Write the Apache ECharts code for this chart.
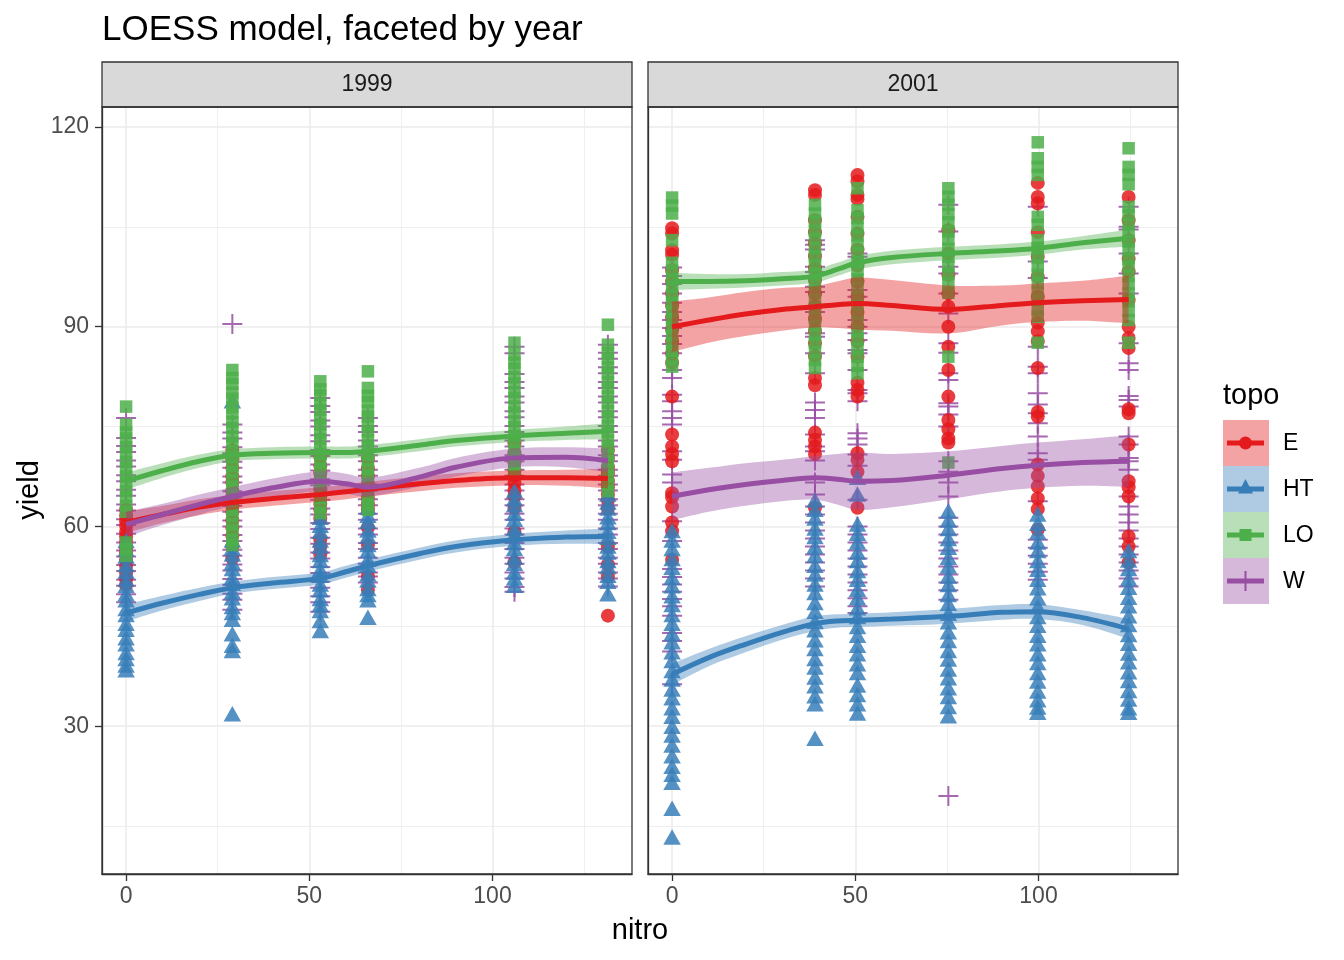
<!DOCTYPE html>
<html><head><meta charset="utf-8">
<script src="https://cdn.jsdelivr.net/npm/echarts@6/dist/echarts.min.js"></script>
<style>html,body{margin:0;padding:0;background:#fff}#c{width:1344px;height:960px}</style>
</head><body><div id="c"></div><script>
// ---------- data ----------
const topos = ['E', 'HT', 'LO', 'W'];
const years = ['1999', '2001'];
const nitro1999 = [0, 29, 53, 66, 106, 131.5];
const nitro2001 = [0, 39, 50.6, 75.4, 99.8, 124.6];
const xTicks = [0, 50, 100];
const xMinorTicks = [25, 75, 125];
const yTicks = [30, 60, 90, 120];
const yMinorTicks = [15, 45, 75, 105];

// observed yields, one list per nitro level
const E_1999 = [
  [62.5, 61.6, 60.8, 60.1, 59.2, 58.5, 57.7, 56.8, 56.1, 55.0, 54.1, 53.0, 52.1, 51.2],
  [71.5, 70.1, 68.8, 67.5, 66.6, 65.3, 64.4, 63.1, 62.2, 60.9, 59.8, 58.6, 57.0, 55.2],
  [70.5, 69.1, 68.0, 66.9, 65.6, 64.6, 63.4, 62.5, 61.2, 58.0, 57.0, 55.8],
  [70.2, 68.7, 67.6, 66.4, 65.5, 64.3, 63.4, 62.6, 59.8, 57.2, 52.5, 50.5],
  [72.5, 71.0, 69.6, 68.4, 67.6, 66.5, 65.4, 64.5, 62.8, 59.2, 54.6],
  [71.5, 70.3, 68.9, 68.0, 66.8, 65.9, 64.8, 63.9, 62.7, 57.0, 54.3, 52.5, 46.6]
];
const HT_1999 = [
  [57.5, 56.2, 55.2, 53.9, 52.9, 51.7, 50.8, 49.5, 48.6, 47.3, 46.4, 45.1, 44.2, 42.9, 42.0, 40.7, 39.8, 38.8, 38.1],
  [78.5, 57.6, 56.4, 55.5, 54.2, 53.3, 52.0, 51.1, 49.8, 48.9, 47.6, 46.7, 45.7, 43.5, 41.8, 41.0, 31.5],
  [61.0, 59.8, 58.9, 57.6, 56.7, 55.4, 54.5, 53.2, 52.3, 51.0, 50.1, 48.8, 47.9, 47.0, 45.5, 44.0],
  [62.5, 61.3, 60.4, 59.1, 58.2, 56.9, 56.0, 54.7, 53.8, 52.5, 51.6, 50.3, 49.4, 48.6, 46.0],
  [65.0, 63.8, 62.9, 61.6, 60.7, 59.4, 58.5, 57.2, 56.3, 55.0, 54.1, 52.8, 51.9, 50.8],
  [64.5, 63.3, 62.4, 61.1, 60.2, 58.9, 58.0, 56.7, 55.8, 54.5, 53.6, 52.3, 51.4, 49.5]
];
const LO_1999 = [
  [78.0, 75.3, 74.1, 73.2, 71.9, 71.0, 69.7, 68.8, 67.5, 66.6, 65.3, 64.4, 63.1, 62.2, 57.6, 56.6, 55.6],
  [83.5, 82.3, 81.4, 80.1, 79.2, 77.9, 77.0, 75.7, 74.8, 73.5, 72.6, 71.3, 70.4, 69.1, 68.2, 66.9, 66.0, 64.7, 63.8, 62.5, 61.6, 60.3, 59.4, 58.0, 57.2],
  [81.8, 80.6, 79.7, 78.4, 77.5, 76.2, 75.3, 74.0, 73.1, 71.8, 70.9, 69.6, 68.7, 67.4, 66.5, 65.2, 64.3, 63.0, 62.0],
  [83.3, 80.8, 79.6, 78.7, 77.4, 76.5, 75.2, 74.3, 73.0, 72.1, 70.8, 69.9, 68.6, 67.7, 66.4, 65.5, 64.2, 63.3, 62.5],
  [87.6, 85.8, 84.6, 83.7, 82.4, 81.5, 80.2, 79.3, 78.0, 77.1, 75.8, 74.9, 73.6, 72.7, 71.4, 70.5, 69.3, 68.5],
  [90.3, 87.3, 86.1, 85.2, 83.9, 83.0, 81.7, 80.8, 79.5, 78.6, 77.3, 76.4, 75.1, 74.2, 72.9, 72.0, 70.7, 69.8, 68.5, 67.6, 66.3, 65.3]
];
const W_1999 = [
  [76.3, 73.3, 72.1, 71.2, 69.9, 69.0, 67.7, 66.8, 65.5, 64.6, 63.3, 62.4, 61.1, 60.2, 58.9, 57.6, 56.4, 55.5, 54.2, 53.3, 52.0, 51.1, 49.8, 48.6],
  [90.4, 75.3, 74.1, 73.2, 71.9, 71.0, 69.7, 68.8, 67.5, 66.6, 65.3, 64.4, 63.1, 62.2, 60.9, 60.0, 58.7, 57.8, 56.5, 55.6, 54.3, 53.4, 52.1, 51.2, 49.9, 49.0, 47.5],
  [79.3, 78.1, 77.2, 75.9, 75.0, 73.7, 72.8, 71.5, 70.6, 69.3, 68.4, 67.1, 66.2, 64.9, 64.0, 62.7, 61.8, 60.5, 59.6, 58.3, 57.4, 56.1, 55.2, 53.9, 53.0, 51.7, 50.8, 49.5, 48.6, 47.2],
  [76.3, 75.1, 74.2, 72.9, 72.0, 70.7, 69.8, 68.5, 67.6, 66.3, 65.4, 64.1, 63.2, 61.9, 61.0, 59.7, 58.8, 57.5, 56.6, 55.3, 54.4, 53.1, 52.5, 51.6],
  [87.0, 86.0, 82.9, 81.7, 80.8, 79.5, 78.6, 77.3, 76.4, 75.1, 74.2, 72.9, 72.0, 70.7, 69.8, 68.5, 67.6, 66.3, 65.4, 64.1, 63.2, 61.9, 61.0, 59.7, 58.8, 57.5, 56.6, 55.3, 54.4, 53.1, 52.2, 50.9, 50.2],
  [87.3, 86.1, 85.2, 83.9, 83.0, 81.7, 80.8, 79.5, 78.6, 77.3, 76.4, 75.1, 74.2, 72.9, 72.0, 70.7, 69.8, 68.5, 67.6, 66.3, 65.4, 64.1, 63.2, 61.9, 61.0, 59.7, 58.8, 57.5, 56.6, 55.3, 54.4, 53.1, 52.2, 51.0]
];

const E_2001 = [
  [104.8, 104.0, 101.5, 100.8, 98.5, 96.8, 95.0, 93.2, 91.4, 89.6, 87.8, 86.0, 84.6, 79.5, 73.8, 72.0, 70.9, 69.8, 65.0, 64.4, 63.0, 60.6, 59.3, 55.0],
  [110.5, 109.8, 106.0, 104.2, 102.5, 100.6, 98.8, 97.0, 95.0, 93.0, 91.2, 89.4, 87.5, 85.6, 82.3, 81.2, 74.1, 73.0, 72.0, 70.9, 62.8],
  [112.8, 111.8, 109.8, 109.2, 106.5, 104.0, 101.6, 99.2, 96.8, 94.5, 92.2, 90.0, 87.8, 85.5, 81.6, 80.5, 79.5, 71.0, 70.0, 68.2, 62.8],
  [104.5, 101.0, 97.8, 95.0, 93.0, 90.0, 87.0, 83.5, 79.5, 76.0, 74.6, 73.2, 72.6],
  [111.6, 109.5, 108.5, 104.2, 100.5, 97.5, 94.5, 90.6, 89.3, 87.8, 83.8, 77.2, 76.5, 69.3, 67.6, 66.0, 64.2, 62.6, 59.5],
  [109.5, 106.0, 103.0, 100.2, 98.3, 94.0, 90.0, 88.3, 86.8, 77.6, 77.0, 72.3, 66.8, 65.9, 64.5, 58.5, 57.0, 54.6]
];
const HT_2001 = [
  [59.0, 57.6, 56.3, 54.8, 53.5, 52.0, 50.7, 49.2, 47.9, 46.4, 45.1, 43.6, 42.3, 40.8, 39.5, 38.0, 36.7, 35.2, 33.9, 32.4, 31.1, 29.6, 28.3, 26.8, 25.2, 23.6, 22.4, 21.2, 17.3, 13.0],
  [63.6, 62.2, 60.9, 59.4, 58.1, 56.6, 55.3, 53.8, 52.5, 51.0, 49.7, 48.2, 46.9, 45.4, 44.1, 42.6, 41.3, 39.8, 38.5, 37.0, 35.7, 34.2, 33.0, 27.8],
  [67.0, 64.5, 60.0, 58.6, 57.3, 55.8, 54.5, 53.0, 51.7, 50.2, 48.9, 47.4, 46.1, 44.6, 43.3, 41.8, 40.5, 39.0, 37.7, 35.8, 34.4, 33.0, 31.6],
  [62.0, 60.6, 59.3, 57.8, 56.5, 55.0, 53.7, 52.2, 50.9, 49.4, 48.1, 46.6, 45.3, 43.8, 42.5, 41.0, 39.7, 38.2, 36.9, 35.4, 34.1, 32.6, 31.2],
  [61.5, 60.1, 58.8, 57.3, 56.0, 54.5, 53.2, 51.7, 50.4, 48.9, 47.6, 46.1, 44.8, 43.3, 42.0, 40.5, 39.2, 37.7, 36.4, 34.9, 33.6, 32.5, 31.7],
  [56.0, 54.6, 53.3, 51.8, 50.5, 49.0, 47.7, 46.2, 44.9, 43.4, 42.1, 40.6, 39.3, 37.8, 36.5, 35.0, 33.7, 32.4, 31.7]
];
const LO_2001 = [
  [109.4, 108.2, 107.0, 103.0, 99.6, 98.4, 97.1, 96.0, 94.7, 93.6, 92.3, 91.2, 89.9, 88.8, 87.5, 86.4, 85.1, 84.0],
  [108.3, 107.0, 105.8, 104.4, 103.2, 101.8, 100.6, 99.2, 98.0, 96.6, 95.4, 94.0, 92.8, 91.4, 90.2, 88.8, 87.6, 86.2, 85.0, 83.8],
  [110.8, 107.5, 106.3, 104.9, 103.7, 102.3, 101.1, 99.7, 98.5, 97.1, 95.9, 94.5, 93.3, 91.9, 90.7, 89.3, 88.1, 86.7, 85.5, 84.1, 83.0],
  [110.8, 109.5, 108.3, 106.9, 105.7, 104.3, 103.1, 101.7, 100.5, 99.1, 97.9, 96.5, 95.1, 85.5, 69.6],
  [117.7, 115.3, 114.0, 112.8, 106.5, 105.3, 103.0, 101.8, 100.4, 99.2, 97.8, 96.6, 95.2, 94.0, 92.6, 91.5, 87.6],
  [116.8, 114.0, 112.8, 111.4, 108.0, 106.8, 105.4, 104.2, 102.8, 101.6, 100.2, 99.0, 97.6, 96.4, 95.0, 93.8, 92.4, 91.0, 87.6]
];
const W_2001 = [
  [98.9, 97.6, 96.4, 95.0, 93.6, 92.2, 91.0, 89.8, 88.6, 87.4, 86.0, 83.5, 82.3, 79.8, 78.8, 77.3, 76.3, 75.3, 71.3, 70.0, 67.8, 66.6, 60.8, 57.8, 53.6, 52.4, 51.3, 50.2, 49.1, 48.0, 46.6, 44.0, 42.8, 41.2, 36.3],
  [103.0, 102.3, 101.6, 99.0, 98.2, 96.0, 95.2, 93.0, 92.2, 89.0, 88.5, 86.0, 83.0, 78.6, 77.5, 76.3, 73.8, 72.0, 71.3, 69.9, 66.6, 64.8, 63.0, 61.8, 60.6, 59.4, 58.2, 57.0, 55.8, 54.6, 53.4, 52.2, 51.0],
  [101.0, 100.5, 95.5, 94.5, 91.0, 90.0, 89.0, 88.0, 86.5, 86.0, 83.5, 80.5, 80.0, 78.8, 74.0, 73.2, 72.3, 70.8, 69.1, 64.0, 60.0, 58.8, 57.6, 56.4, 55.2, 54.0, 52.8, 51.6, 50.4, 49.2, 48.0, 47.0],
  [108.3, 104.3, 99.0, 98.0, 95.0, 92.0, 87.5, 86.1, 83.0, 82.0, 78.5, 78.0, 76.8, 75.0, 69.8, 68.2, 66.6, 64.5, 61.3, 60.0, 58.8, 57.6, 56.4, 55.2, 54.0, 52.8, 51.6, 50.4, 49.0, 19.5],
  [108.0, 99.8, 97.3, 87.0, 84.0, 83.0, 80.0, 78.3, 77.0, 75.5, 73.5, 71.0, 70.0, 63.8, 58.0, 56.8, 55.6, 54.4, 53.2, 52.0],
  [108.0, 105.0, 104.6, 101.0, 98.0, 95.0, 87.5, 84.5, 83.5, 79.6, 79.0, 78.0, 73.5, 72.3, 70.3, 69.8, 68.5, 64.5, 63.0, 61.8, 60.6, 59.4, 58.2, 57.0, 55.8, 54.6, 53.4, 52.2, 51.0]
];

// LOESS fit and half-width of its confidence band
const fitX1999 = [0, 10, 20, 29, 40, 53, 60, 66, 80, 90, 106, 120, 131.5];
const E_fit1999  = [60.6, 61.8, 62.9, 63.6, 64.2, 64.8, 65.2, 65.6, 66.4, 66.9, 67.3, 67.3, 67.2];
const E_se1999   = [1.6, 1.3, 1.2, 1.1, 1.1, 1.1, 1.1, 1.1, 1.1, 1.1, 1.1, 1.2, 1.5];
const HT_fit1999 = [47.0, 48.5, 49.8, 50.8, 51.5, 52.2, 53.2, 54.1, 55.9, 57.0, 58.0, 58.4, 58.5];
const HT_se1999  = [1.3, 1.1, 1.0, 0.9, 0.9, 0.9, 0.9, 0.9, 0.9, 0.9, 0.9, 1.0, 1.2];
const LO_fit1999 = [66.8, 68.4, 69.8, 70.7, 71.0, 71.1, 71.1, 71.3, 72.2, 72.9, 73.6, 74.0, 74.3];
const LO_se1999  = [1.3, 1.1, 1.0, 0.9, 0.9, 0.9, 0.9, 0.9, 0.9, 0.9, 0.9, 1.0, 1.2];
const W_fit1999  = [60.3, 61.8, 63.3, 64.5, 65.8, 66.8, 66.4, 65.9, 67.4, 68.9, 70.3, 70.4, 69.9];
const W_se1999   = [1.9, 1.6, 1.5, 1.4, 1.4, 1.5, 1.5, 1.4, 1.4, 1.4, 1.4, 1.5, 1.8];

const fitX2001 = [0, 10, 20, 30, 39, 45, 50.6, 60, 75.4, 90, 99.8, 112, 124.6];
const E_fit2001  = [90.0, 91.0, 91.9, 92.6, 93.0, 93.3, 93.5, 93.2, 92.6, 93.2, 93.6, 93.9, 94.1];
const E_se2001   = [3.8, 3.4, 3.3, 3.2, 3.1, 3.5, 3.9, 3.8, 3.6, 3.0, 2.9, 3.0, 3.6];
const HT_fit2001 = [37.8, 40.3, 42.3, 44.1, 45.4, 45.8, 45.9, 46.1, 46.5, 47.1, 47.2, 46.3, 44.6];
const HT_se2001  = [1.6, 1.3, 1.2, 1.1, 1.1, 1.0, 1.0, 1.0, 1.1, 1.1, 1.1, 1.1, 1.5];
const LO_fit2001 = [96.8, 96.8, 96.9, 97.2, 97.6, 98.6, 99.6, 100.4, 101.0, 101.4, 101.8, 102.6, 103.3];
const LO_se2001  = [1.3, 1.1, 1.0, 1.0, 1.0, 1.0, 1.0, 1.0, 1.0, 1.0, 1.0, 1.0, 1.3];
const W_fit2001  = [64.5, 65.5, 66.3, 66.9, 67.3, 67.1, 66.8, 66.9, 67.7, 68.7, 69.2, 69.6, 69.8];
const W_se2001   = [3.6, 3.3, 3.2, 3.1, 3.3, 3.8, 4.3, 4.0, 3.6, 3.4, 3.4, 3.5, 3.9];

// ---------- styling ----------
const FONT = '"Liberation Sans", Arial, Helvetica, sans-serif';
const colors = { E: '#E41A1C', HT: '#377EB8', LO: '#4DAF4A', W: '#984EA3' };
const bandFill = { E: 'rgba(228,26,28,0.4)', HT: 'rgba(55,126,184,0.4)', LO: 'rgba(77,175,74,0.4)', W: 'rgba(152,78,163,0.4)' };
const PLUS = 'path://M-1,-10L1,-10L1,-1L10,-1L10,1L1,1L1,10L-1,10L-1,1L-10,1L-10,-1L-1,-1Z';
const symbols = { E: 'circle', HT: 'triangle', LO: 'rect', W: PLUS };
const symSize = { E: 14, HT: [17.5, 15.5], LO: 12.5, W: 20 };
const symOffset = { E: [0, 0], HT: [0, -2.5], LO: [0, 0], W: [0, 0] };
const SMOOTH = 0.35;

const points = {
  '1999': { E: E_1999, HT: HT_1999, LO: LO_1999, W: W_1999 },
  '2001': { E: E_2001, HT: HT_2001, LO: LO_2001, W: W_2001 }
};
const levels = { '1999': nitro1999, '2001': nitro2001 };
const fitX = { '1999': fitX1999, '2001': fitX2001 };
const fits = {
  '1999': { E: E_fit1999, HT: HT_fit1999, LO: LO_fit1999, W: W_fit1999 },
  '2001': { E: E_fit2001, HT: HT_fit2001, LO: LO_fit2001, W: W_fit2001 }
};
const ses = {
  '1999': { E: E_se1999, HT: HT_se1999, LO: LO_se1999, W: W_se1999 },
  '2001': { E: E_se2001, HT: HT_se2001, LO: LO_se2001, W: W_se2001 }
};

// same bezier smoothing ECharts uses for smooth lines, applied to pixel points
function smoothSegs(p) {
  let d = '';
  let c0 = p[0];
  for (let i = 1; i < p.length; i++) {
    const cur = p[i];
    let c1 = cur, nc0 = cur;
    if (i < p.length - 1) {
      const prev = p[i - 1], next = p[i + 1];
      const vx = next[0] - prev[0], vy = next[1] - prev[1];
      const l0 = Math.hypot(cur[0] - prev[0], cur[1] - prev[1]);
      const l1 = Math.hypot(next[0] - cur[0], next[1] - cur[1]);
      const r = l1 / (l0 + l1);
      c1 = [cur[0] - vx * SMOOTH * (1 - r), cur[1] - vy * SMOOTH * (1 - r)];
      nc0 = [cur[0] + vx * SMOOTH * r, cur[1] + vy * SMOOTH * r];
    }
    d += 'C' + c0[0] + ',' + c0[1] + ' ' + c1[0] + ',' + c1[1] + ' ' + cur[0] + ',' + cur[1];
    c0 = nc0;
  }
  return d;
}
function bandRenderer(xs, f, s, fill) {
  return function (params, api) {
    const up = xs.map((x, i) => api.coord([x, f[i] + s[i]]));
    const dn = xs.map((x, i) => api.coord([x, f[i] - s[i]])).reverse();
    const d = 'M' + up[0][0] + ',' + up[0][1] + smoothSegs(up) +
      'L' + dn[0][0] + ',' + dn[0][1] + smoothSegs(dn) + 'Z';
    return { type: 'path', shape: { pathData: d }, style: { fill: fill, stroke: null } };
  };
}

const panelLeft = [102, 648];
const PANEL_TOP = 107, PANEL_H = 767, PANEL_W = 530;
const XMIN = -6.575, XMAX = 138.075, YMIN = 7.8, YMAX = 123.0;

const grids = [], xAxes = [], yAxes = [], series = [];
years.forEach((yr, g) => {
  grids.push({ left: panelLeft[g], top: PANEL_TOP, width: PANEL_W, height: PANEL_H, show: false, containLabel: false });
  xAxes.push({
    type: 'value', gridIndex: g, min: XMIN, max: XMAX, position: 'bottom',
    axisLine: { show: true, onZero: false, lineStyle: { color: '#333333', width: 1.3 } },
    axisTick: { show: true, customValues: xTicks, length: 7, lineStyle: { color: '#333333', width: 1.3 } },
    axisLabel: { show: true, customValues: xTicks, color: '#4D4D4D', fontSize: 23, fontFamily: FONT, margin: 11 },
    splitLine: { show: true, lineStyle: { color: '#EBEBEB', width: 1.5 } }
  });
  xAxes.push({
    type: 'value', gridIndex: g, min: XMIN, max: XMAX, position: 'top',
    axisLine: { show: false },
    axisTick: { show: false, customValues: xMinorTicks },
    axisLabel: { show: false, customValues: xMinorTicks },
    splitLine: { show: true, lineStyle: { color: '#EBEBEB', width: 0.8 } }
  });
  yAxes.push({
    type: 'value', gridIndex: g, min: YMIN, max: YMAX, position: 'left',
    axisLine: { show: true, onZero: false, lineStyle: { color: '#333333', width: 1.3 } },
    axisTick: { show: g === 0, customValues: yTicks, length: 7, lineStyle: { color: '#333333', width: 1.3 } },
    axisLabel: { show: g === 0, customValues: yTicks, color: '#4D4D4D', fontSize: 23, fontFamily: FONT, margin: 13 },
    splitLine: { show: true, lineStyle: { color: '#EBEBEB', width: 1.5 } }
  });
  yAxes.push({
    type: 'value', gridIndex: g, min: YMIN, max: YMAX, position: 'right',
    axisLine: { show: false },
    axisTick: { show: false, customValues: yMinorTicks },
    axisLabel: { show: false, customValues: yMinorTicks },
    splitLine: { show: true, lineStyle: { color: '#EBEBEB', width: 0.8 } }
  });

  ['W', 'E', 'HT', 'LO'].forEach(t => {
    const data = [];
    levels[yr].forEach((n, i) => points[yr][t][i].forEach(v => data.push([n, v])));
    series.push({
      type: 'scatter', name: t, xAxisIndex: g * 2, yAxisIndex: g * 2, data,
      symbol: symbols[t], symbolSize: symSize[t], symbolOffset: symOffset[t], silent: true, z: 2,
      itemStyle: { color: colors[t], opacity: 0.85 }
    });
  });

  topos.forEach(t => {
    const xs = fitX[yr], f = fits[yr][t], s = ses[yr][t];
    series.push({
      type: 'custom', xAxisIndex: g * 2, yAxisIndex: g * 2, silent: true, z: 3, clip: true,
      data: [[xs[0], f[0]]],
      renderItem: bandRenderer(xs, f, s, bandFill[t])
    });
    series.push({
      type: 'line', xAxisIndex: g * 2, yAxisIndex: g * 2, symbol: 'none', showSymbol: false,
      smooth: SMOOTH, silent: true, z: 3,
      data: xs.map((x, i) => [x, f[i]]),
      lineStyle: { color: colors[t], width: 5 }
    });
  });
});

// ---------- decorations: title, strips, panel borders, axis titles, legend ----------
const graphics = [
  { type: 'text', left: 102, top: 13, z: 10, style: { text: 'LOESS model, faceted by year', fill: '#000', font: '35px ' + FONT } },
  { type: 'text', x: 640, y: 931, z: 10, style: { text: 'nitro', fill: '#000', font: '29px ' + FONT, textAlign: 'center', textVerticalAlign: 'middle' } },
  { type: 'text', x: 30, y: 490, rotation: Math.PI / 2, z: 10, style: { text: 'yield', fill: '#000', font: '29px ' + FONT, textAlign: 'center', textVerticalAlign: 'middle' } }
];
years.forEach((yr, g) => {
  graphics.push({ type: 'rect', z: 10, shape: { x: panelLeft[g], y: 62, width: PANEL_W, height: 45 }, style: { fill: '#D9D9D9', stroke: '#333333', lineWidth: 1.3 } });
  graphics.push({ type: 'text', z: 11, x: panelLeft[g] + PANEL_W / 2, y: 85, style: { text: yr, fill: '#1A1A1A', font: '23px ' + FONT, textAlign: 'center', textVerticalAlign: 'middle' } });
  graphics.push({ type: 'rect', z: 10, shape: { x: panelLeft[g], y: PANEL_TOP, width: PANEL_W, height: PANEL_H }, style: { fill: 'none', stroke: '#333333', lineWidth: 1.3 } });
});
graphics.push({ type: 'text', z: 10, x: 1223, y: 396, style: { text: 'topo', fill: '#000', font: '29px ' + FONT, textVerticalAlign: 'middle' } });
const keyCy = [443, 489, 535, 581];
topos.forEach((t, i) => {
  const cy = keyCy[i], cx = 1245.5;
  graphics.push({ type: 'rect', z: 10, shape: { x: 1223, y: cy - 23, width: 46, height: 46 }, style: { fill: bandFill[t] } });
  graphics.push({ type: 'line', z: 11, shape: { x1: 1227, y1: cy, x2: 1264, y2: cy }, style: { stroke: colors[t], lineWidth: 5 } });
  if (t === 'E') graphics.push({ type: 'circle', z: 12, shape: { cx, cy, r: 6.5 }, style: { fill: colors[t] } });
  if (t === 'HT') graphics.push({ type: 'polygon', z: 12, shape: { points: [[cx, cy - 10], [cx + 7.5, cy + 4.5], [cx - 7.5, cy + 4.5]] }, style: { fill: colors[t] } });
  if (t === 'LO') graphics.push({ type: 'rect', z: 12, shape: { x: cx - 6, y: cy - 6, width: 12, height: 12 }, style: { fill: colors[t] } });
  if (t === 'W') graphics.push({ type: 'rect', z: 12, shape: { x: cx - 1, y: cy - 10, width: 2, height: 20 }, style: { fill: colors[t] } });
  graphics.push({ type: 'text', z: 12, x: 1283, y: cy + 1, style: { text: t, fill: '#000', font: '23px ' + FONT, textVerticalAlign: 'middle' } });
});

const chart = echarts.init(document.getElementById('c'), null, { renderer: 'canvas', width: 1344, height: 960 });
chart.setOption({
  animation: false,
  backgroundColor: '#FFFFFF',
  textStyle: { fontFamily: FONT },
  grid: grids, xAxis: xAxes, yAxis: yAxes,
  series, graphic: graphics
});
</script></body></html>
